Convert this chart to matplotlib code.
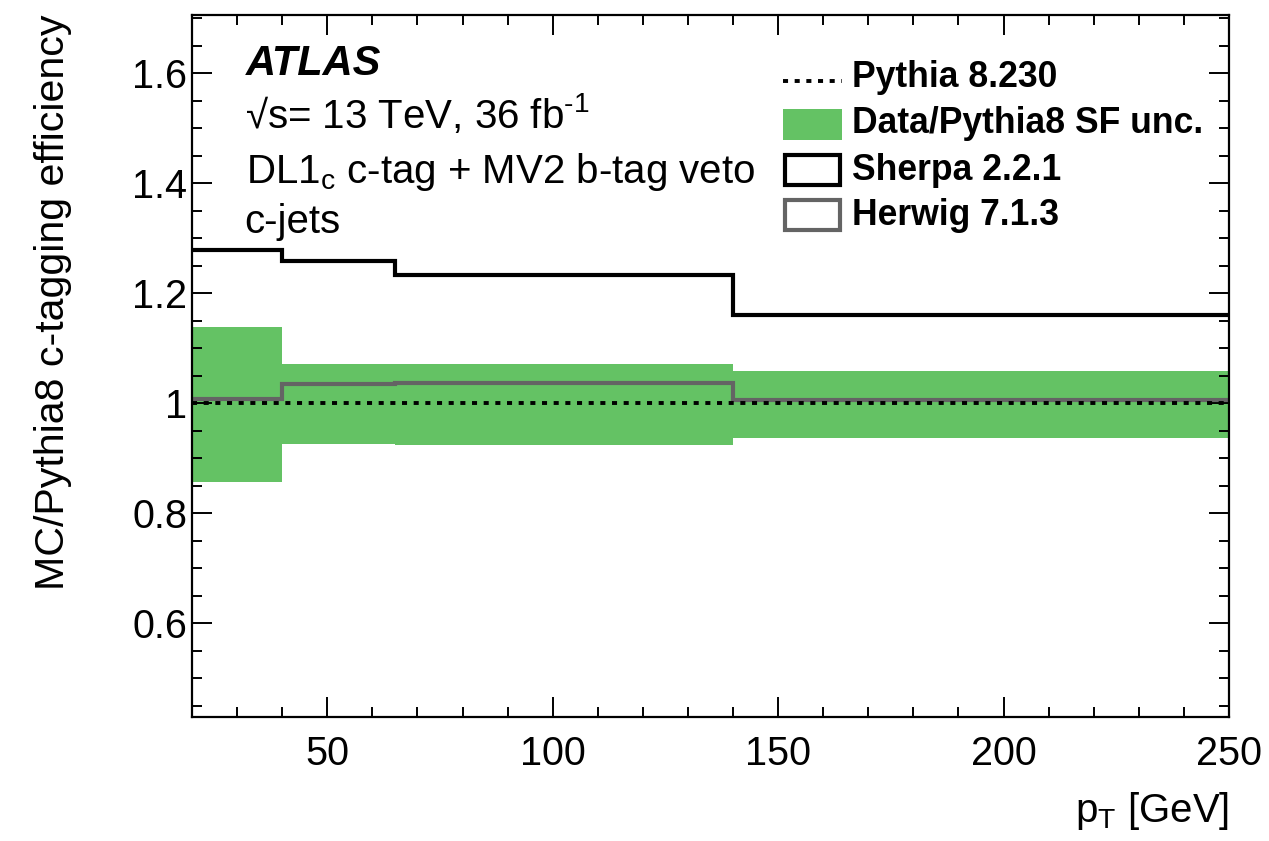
import matplotlib
matplotlib.use("Agg")
import matplotlib.pyplot as plt
from matplotlib.patches import Rectangle
from matplotlib.lines import Line2D
from matplotlib.ticker import MultipleLocator
import numpy as np

# pT bin edges [GeV]
bin_edges = [20, 40, 65, 140, 250]

# MC / Pythia8 c-tagging efficiency ratios per bin
pythia_ratio = [1.0, 1.0, 1.0, 1.0]
sherpa_ratio = [1.279, 1.259, 1.233, 1.160]
herwig_ratio = [1.008, 1.036, 1.038, 1.007]

# Data/Pythia8 scale-factor uncertainty band (upper / lower edge)
sf_unc_up = [1.138, 1.071, 1.072, 1.059]
sf_unc_down = [0.858, 0.926, 0.925, 0.938]

legend_labels = ["Pythia 8.230", "Data/Pythia8 SF unc.", "Sherpa 2.2.1", "Herwig 7.1.3"]

plt.rcParams["font.family"] = ["Liberation Sans", "DejaVu Sans"]
plt.rcParams["mathtext.fontset"] = "custom"
plt.rcParams["mathtext.rm"] = "Liberation Sans"
plt.rcParams["mathtext.it"] = "Liberation Sans:italic"
plt.rcParams["mathtext.bf"] = "Liberation Sans:bold"

GREEN = "#64C264"
GREY = "#646464"

fig = plt.figure(figsize=(12.69, 8.41), dpi=100)
ax = fig.add_axes([192 / 1269, 1 - 717 / 841, 1037 / 1269, 702 / 841])

edges = np.array(bin_edges, dtype=float)
ax.stairs(sf_unc_up, edges, baseline=sf_unc_down, fill=True, color=GREEN, lw=0, zorder=1)
ax.stairs(herwig_ratio, edges, baseline=None, color=GREY, lw=3.0, zorder=2)
ax.stairs(pythia_ratio, edges, baseline=None, color="black", lw=2.8,
          linestyle=(0, (1.3, 1.7)), zorder=3)
ax.stairs(sherpa_ratio, edges, baseline=None, color="black", lw=3.0, zorder=4)

ax.set_xlim(20, 250)
ax.set_ylim(0.43, 1.706)

ax.xaxis.set_major_locator(MultipleLocator(50))
ax.xaxis.set_minor_locator(MultipleLocator(10))
ax.yaxis.set_major_locator(MultipleLocator(0.2))
ax.yaxis.set_minor_locator(MultipleLocator(0.05))
ax.yaxis.set_major_formatter(plt.FuncFormatter(lambda v, p: "1" if abs(v - 1) < 1e-6 else f"{v:.1f}"))

ax.tick_params(which="both", direction="in", top=True, right=True, width=1.4, labelsize=28.5)
ax.tick_params(which="major", length=14.4)
ax.tick_params(which="minor", length=7.2)
ax.tick_params(axis="x", which="major", pad=13)
ax.tick_params(axis="y", which="major", pad=3.5)
for s in ax.spines.values():
    s.set_linewidth(1.6)

ax.set_ylabel("MC/Pythia8 c-tagging efficiency", fontsize=29.6, loc="top", labelpad=43)
ax.set_xlabel(r"p$_\mathregular{T}$ [GeV]", fontsize=29, loc="right", labelpad=12)

def axy(py):
    return (717 - py) / 702

def axx(px):
    return (px - 192) / 1037

# Experiment label and selection
ax.text(axx(246), axy(75), "ATLAS", transform=ax.transAxes, fontsize=30,
        fontweight="bold", fontstyle="italic")
ax.text(axx(245), axy(128), "\u221As= 13 TeV, 36 fb$^{\\mathregular{\u20101}}$",
        transform=ax.transAxes, fontsize=29)
ax.text(axx(246), axy(182.7), "DL1$_\\mathregular{c}$ c-tag + MV2 b-tag veto",
        transform=ax.transAxes, fontsize=29)
ax.text(axx(244), axy(233), "c-jets", transform=ax.transAxes, fontsize=29)

# Legend drawn by hand
hx0, hx1 = axx(783), axx(842)
ax.add_line(Line2D([hx0, hx1], [axy(81)] * 2, transform=ax.transAxes, color="black",
                   lw=2.8, linestyle=(0, (1.3, 1.7))))
ax.add_patch(Rectangle((hx0, axy(140)), hx1 - hx0, axy(109.3) - axy(140),
                       transform=ax.transAxes, facecolor=GREEN, edgecolor="none"))
ax.add_patch(Rectangle((axx(785), axy(185)), axx(840) - axx(785), axy(155) - axy(185),
                       transform=ax.transAxes, facecolor="none", edgecolor="black", lw=3.0))
ax.add_patch(Rectangle((axx(785), axy(230)), axx(840) - axx(785), axy(200) - axy(230),
                       transform=ax.transAxes, facecolor="none", edgecolor=GREY, lw=3.0))
for lab, by in zip(legend_labels, [86.7, 133.3, 180, 225]):
    ax.text(axx(852), axy(by), lab, transform=ax.transAxes, fontsize=25.6,
            fontweight="bold")

fig.savefig("out.png", dpi=100)
